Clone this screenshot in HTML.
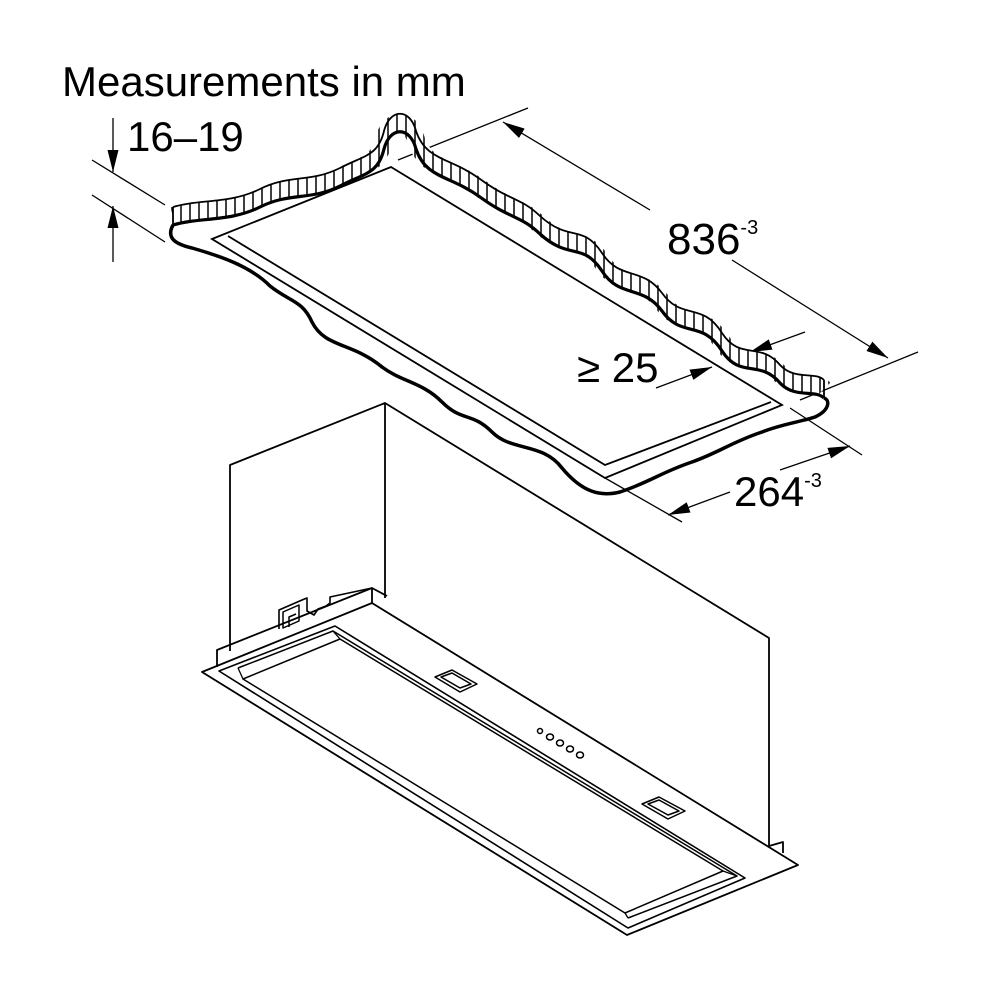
<!DOCTYPE html>
<html><head><meta charset="utf-8"><style>
html,body{margin:0;padding:0;background:#fff}
svg{display:block}
text{font-family:"Liberation Sans",Arial,sans-serif;fill:#000}
</style></head><body>
<svg width="1000" height="1000" viewBox="0 0 1000 1000" xmlns="http://www.w3.org/2000/svg">
<defs>
<pattern id="h" width="9" height="20" patternUnits="userSpaceOnUse"><rect width="9" height="20" fill="#fff"/><line x1="1" y1="0" x2="1" y2="20" stroke="#000" stroke-width="1.5"/></pattern>
<marker id="a2" viewBox="0 0 10 10" refX="10" refY="5" markerWidth="22" markerHeight="22" markerUnits="userSpaceOnUse" orient="auto"><path d="M0,2.5 L10,5 L0,7.5 z" fill="#000"/></marker>
</defs>
<rect width="1000" height="1000" fill="#fff"/>
<text x="62" y="96" font-size="42">Measurements in mm</text>
<text x="127" y="151" font-size="42">16–19</text>
<text x="667" y="254" font-size="44">836<tspan font-size="20" dy="-20">-3</tspan></text>
<text x="577" y="382" font-size="42">≥ 25</text>
<text x="734" y="506" font-size="42">264<tspan font-size="20" dy="-19">-3</tspan></text>

<g stroke="#000" fill="none" stroke-width="1.3">
<line x1="92" y1="160" x2="165" y2="205"/>
<line x1="92" y1="195" x2="165" y2="242"/>
<line x1="113" y1="118" x2="113" y2="172" marker-end="url(#a2)"/>
<line x1="113" y1="262" x2="113" y2="206" marker-end="url(#a2)"/>
<line x1="398" y1="160" x2="528" y2="108"/>
<line x1="800" y1="400" x2="918" y2="352"/>
<line x1="650" y1="210" x2="503" y2="122" marker-end="url(#a2)"/>
<line x1="732" y1="260" x2="888" y2="358" marker-end="url(#a2)"/>
<line x1="656" y1="388" x2="712" y2="367" marker-end="url(#a2)"/>
<line x1="805" y1="332" x2="750" y2="352" marker-end="url(#a2)"/>
<line x1="605" y1="478" x2="682" y2="522"/>
<line x1="790" y1="408" x2="862" y2="455"/>
<line x1="730" y1="492" x2="668" y2="515" marker-end="url(#a2)"/>
<line x1="780" y1="470" x2="850" y2="446" marker-end="url(#a2)"/>
</g>

<!-- ceiling -->
<g fill="none" stroke="#000">
<path d="M173,216 C200,208 230,213 260,198 C290,183 310,192 340,177 C365,164 378,165 384,140 C390,117 410,117 416,140 C426,170 450,166 480,188 C510,210 520,206 540,225 C570,252 582,232 602,262 C620,290 642,275 662,302 C682,330 702,310 722,342 C740,370 760,350 780,374 C795,390 815,380 824,389" stroke="url(#h)" stroke-width="18"/>
<path d="M173,207 C200,199 230,204 260,189 C290,174 310,183 340,168 C365,155 378,156 384,131 C390,108 410,108 416,131 C426,161 450,157 480,179 C510,201 520,197 540,216 C570,243 582,223 602,253 C620,281 642,266 662,293 C682,321 702,301 722,333 C740,361 760,341 780,365 C795,381 815,371 824,380" stroke-width="1.8"/>
<path d="M173,225 C200,217 230,222 260,207 C290,192 310,201 340,186 C365,173 378,174 384,149 C390,126 410,126 416,149 C426,179 450,175 480,197 C510,219 520,215 540,234 C570,261 582,241 602,271 C620,299 642,284 662,311 C682,339 702,319 722,351 C740,379 760,359 780,383 C795,399 815,389 824,398" stroke-width="3.2"/>
<path d="M173,207 L173,225 M824,380 L824,398" stroke-width="1.8"/>
<path d="M173,225 C166,238 175,244 192,248 C220,256 250,266 270,286 C290,302 302,300 312,322 C325,348 352,342 382,367 C402,382 422,382 442,402 C462,422 472,412 492,432 C512,452 542,442 562,468 C582,492 600,497 620,492 C650,482 662,472 692,462 C720,452 732,442 762,432 C782,424 800,422 815,417 C830,410 830,400 824,398" stroke-width="3.5"/>
<path d="M212,239 L391,167 L782,405 L605,478 Z" stroke-width="1.8"/>
<path d="M228,236 L605,465 L771,402" stroke-width="1.8"/>
</g>

<!-- hood box -->
<g fill="none" stroke="#000" stroke-width="1.8" stroke-linejoin="round">
<path d="M230,651 L230,465 L385,403 L385,598"/>
<path d="M385,403 L769,638 L769,846"/>
<path d="M769,846 L783,842 L783,853"/>
<path d="M217,667 L217,650 L372,588 L372,603"/>
<path d="M372,588 L387,596"/>
<path d="M202,672 L372,603 L798,865 L627,935 Z"/>
<path d="M219,671 L335,626 L745,878 L628,928 Z" stroke-width="1.6"/>
<path d="M238,668 L333,631 L737,876 L628,918" stroke-width="1.5"/>
<path d="M243,679 L340,639 L723,871 L625,913 Z" stroke-width="1.5"/>
<path d="M238,668 L243,679 M333,631 L340,639 M737,876 L723,871 M628,918 L625,913" stroke-width="1.3"/>
<!-- vents -->
<path d="M435,677 L452,670 L477,684 L460,692 Z M441,677 L452,673 L471,684 L460,688 Z" stroke-width="1.5"/>
<path d="M642,804 L659,797 L685,811 L668,819 Z M648,804 L659,800 L679,811 L668,815 Z" stroke-width="1.5"/>
<!-- clip -->
<path d="M279,629 L279,610 L302,600 L307,598 L307,611 L314,615 L318,609 L326,606 L330,603 L330,597 L372,588" stroke-width="1.6"/>
<path d="M283,628 L283,612 L299,605 L299,621 Z M289,627 L289,617 L296,614" stroke-width="1.5"/>
</g>
<g fill="#fff" stroke="#000" stroke-width="1.5">
<circle cx="540" cy="731" r="2.5"/>
<ellipse cx="550" cy="737" rx="3.5" ry="3"/>
<ellipse cx="560" cy="743" rx="3.5" ry="3"/>
<ellipse cx="570" cy="749" rx="3.5" ry="3"/>
<ellipse cx="580" cy="755" rx="3.5" ry="3"/>
</g>
</svg>
</body></html>
